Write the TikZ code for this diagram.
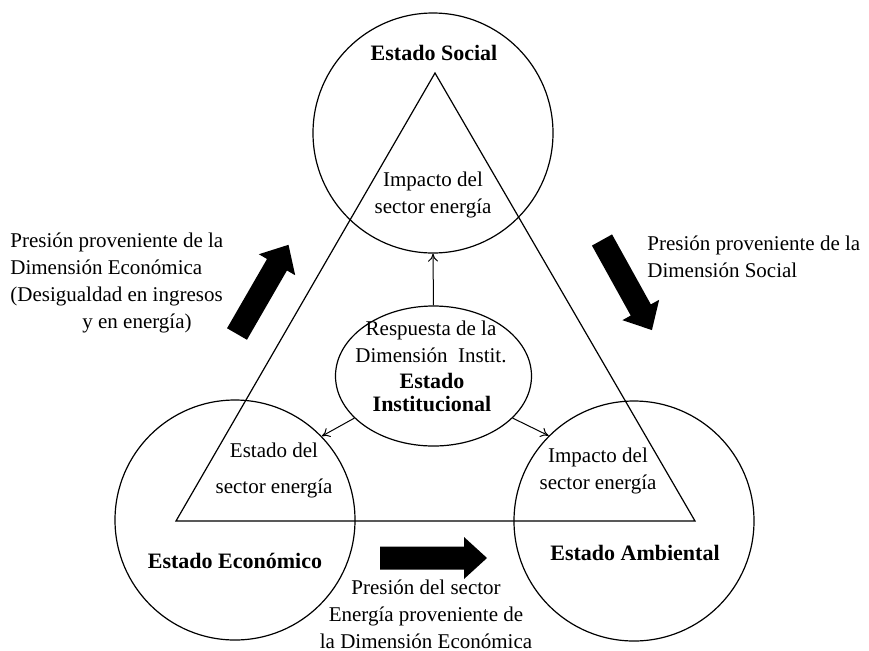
\documentclass[tikz,border=0pt]{standalone}
\usepackage{fontspec}
\setmainfont{Liberation Serif}
\usetikzlibrary{shapes,calc,arrows.meta}

\begin{document}
\begin{tikzpicture}[x=0.5pt,y=-0.5pt,
    txt/.style={font=\fontsize{10.5}{13.5}\selectfont,align=center,inner sep=0pt},
    bold/.style={font=\fontsize{11}{11.5}\selectfont\bfseries,align=center,inner sep=0pt},
    ring/.style={circle,draw,line width=0.6pt,minimum size=120pt,inner sep=0pt},
    thin/.style={-{To[length=4pt,width=5pt]},line width=0.5pt}]
      \useasboundingbox (0,0) rectangle (869,650);
      % triangle
      \coordinate (top) at (435,73);
      \coordinate (left) at (176,521);
      \coordinate (right) at (695,521);
      \draw[line width=0.6pt] (top) -- (left) -- (right) -- cycle;
      % the four states
      \node[ring] (soc) at (433,133) {};
      \node[ring] (eco) at (235,520) {};
      \node[ring] (amb) at (634,521) {};
      \node[ellipse,draw,line width=0.6pt,minimum width=98pt,minimum height=70pt] (inst) at (433.5,376) {};
      \node[bold] (lsoc) at (434,53) {Estado Social};
      \node[bold] (leco) at (235,561) {Estado Económico};
      \node[bold] (lamb) at (635,553) {Estado Ambiental};
      \node[txt] (rinst) at (431,342) {Respuesta de la\\Dimensión \ Instit.};
      \node[bold] (linst) at (432,392) {Estado\\Institucional};
      \node[txt] (isoc) at (433,195) {Impacto del\\sector energía};
      \node[txt] (ieco) at (274,470) {Estado del\\[4.5pt]sector energía};
      \node[txt] (iamb) at (598,471) {Impacto del\\sector energía};
      \draw[thin] (inst.north) -- (soc.south);
      \draw[thin] (inst.-152) -- (eco.44);
      \draw[thin] (inst.-28) -- (amb.135);
      % pressures
      \foreach \x/\y/\a/\l in {237/334/60/103,602/240/-61/103,380/558/0/107}
        \fill[shift={(\x,\y)},rotate=\a] (0,-11.5) -- (\l-23,-11.5) -- (\l-23,-21) -- (\l,0) -- (\l-23,21) -- (\l-23,11.5) -- (0,11.5) -- cycle;
      \node[txt,align=left,anchor=west] (pecon) at (10,283) {Presión proveniente de la\\Dimensión Económica\\(Desigualdad en ingresos\\\hspace*{36pt}y en energía)};
      \node[txt,align=left,anchor=west] (psoc) at (647,257) {Presión proveniente de la\\Dimensión Social};
      \node[txt] (pener) at (426,614) {Presión del sector\\Energía proveniente de\\la Dimensión Económica};
    \end{tikzpicture}
\end{document}
